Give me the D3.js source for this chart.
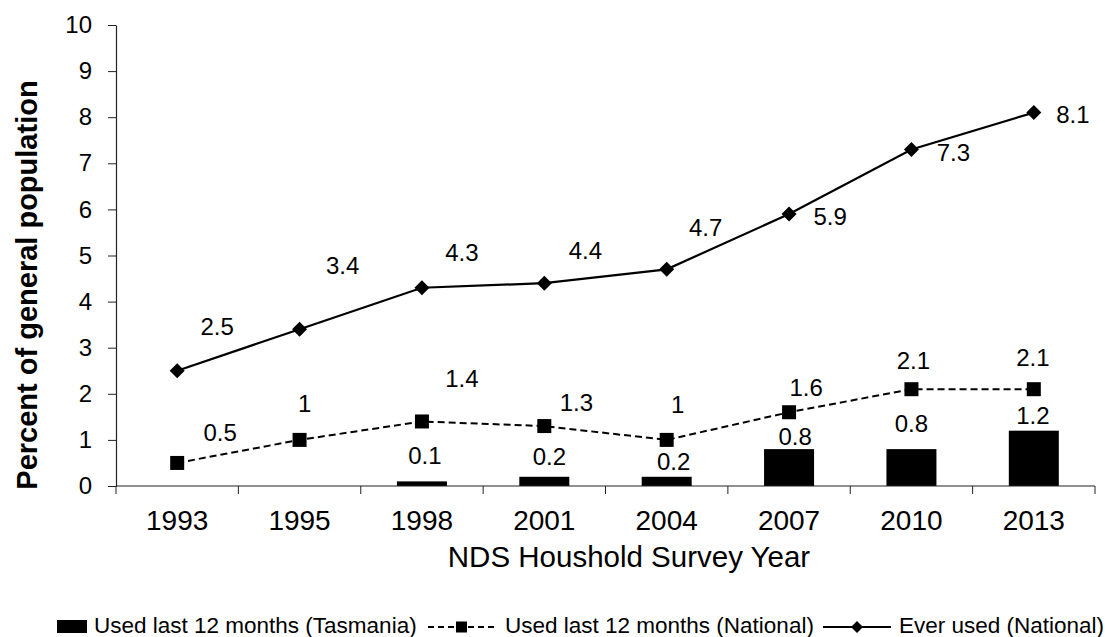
<!DOCTYPE html>
<html>
<head>
<meta charset="utf-8">
<script src="https://cdn.jsdelivr.net/npm/d3@7"></script>
<style>
  html, body { margin: 0; padding: 0; background: #fff; }
  svg { display: block; font-family: "Liberation Sans", Arial, sans-serif; }
</style>
</head>
<body>
<svg id="chart" width="1105" height="637"></svg>
<script>
// Survey years and series values (percent of general population)
const years = ["1993", "1995", "1998", "2001", "2004", "2007", "2010", "2013"];
const tasmania = [null, null, 0.1, 0.2, 0.2, 0.8, 0.8, 1.2];
const national = [0.5, 1, 1.4, 1.3, 1, 1.6, 2.1, 2.1];
const everUsed = [2.5, 3.4, 4.3, 4.4, 4.7, 5.9, 7.3, 8.1];
const yTicks = [0, 1, 2, 3, 4, 5, 6, 7, 8, 9, 10];

const seriesNames = [
  "Used last 12 months (Tasmania)",
  "Used last 12 months (National)",
  "Ever used (National)"
];

// Hand-placed value label offsets (px from each mark)
const everShift = [[40, -44], [43, -64], [40, -35], [41, -33], [39, -42], [41, 2], [42, 3], [39, 2]];
const nationalShift = [[43, -31], [5, -37], [40, -43], [32, -24], [11, -36], [17, -25], [2, -29], [-1, -32]];
const tasShift = [[0, -20], [0, -20], [3, -26], [5, -20], [7, -15], [6, -13], [0, -26], [-1, -15]];

const svg = d3.select("#chart");
const plot = { left: 116, right: 1095, top: 25, bottom: 486 };

const x = d3.scaleBand().domain(years).range([plot.left, plot.right]).paddingInner(0).paddingOuter(0);
const y = d3.scaleLinear().domain([0, 10]).range([plot.bottom, plot.top]);
const cx = d => x(d) + x.bandwidth() / 2;
const barW = 50;

// Tasmania bars
svg.append("g").selectAll("rect")
  .data(years.map((yr, i) => ({ yr, v: tasmania[i], i })).filter(d => d.v !== null))
  .join("rect")
  .attr("x", d => cx(d.yr) - barW / 2)
  .attr("y", d => y(d.v))
  .attr("width", barW)
  .attr("height", d => y(0) - y(d.v))
  .attr("fill", "#000");

// Y axis
const yAxis = svg.append("g")
  .attr("transform", `translate(${plot.left},0)`)
  .call(d3.axisLeft(y).tickValues(yTicks).tickFormat(d3.format("d")).tickSizeInner(8).tickSizeOuter(0).tickPadding(16));
yAxis.select(".domain").attr("stroke", "#222").attr("stroke-width", 1.2);
yAxis.selectAll(".tick line").attr("stroke", "#222");
yAxis.selectAll(".tick text").attr("font-size", 24).attr("fill", "#000")
  .attr("font-family", "'Liberation Sans', Arial, sans-serif");

// X axis with tick marks on category boundaries
const xAxis = svg.append("g").attr("transform", `translate(0,${plot.bottom})`);
xAxis.append("line")
  .attr("x1", plot.left).attr("x2", plot.right)
  .attr("stroke", "#222").attr("stroke-width", 1.2);
const bounds = years.map(d => x(d)).concat([x(years[years.length - 1]) + x.bandwidth()]);
xAxis.selectAll("line.tick").data(bounds).join("line")
  .attr("class", "tick")
  .attr("x1", d => d).attr("x2", d => d)
  .attr("y1", 0).attr("y2", 8)
  .attr("stroke", "#222");
xAxis.selectAll("text").data(years).join("text")
  .attr("x", d => cx(d))
  .attr("y", 44)
  .attr("text-anchor", "middle")
  .attr("font-size", 28)
  .attr("fill", "#000")
  .text(d => d);

// Axis titles
svg.append("text")
  .attr("x", 629).attr("y", 567)
  .attr("text-anchor", "middle")
  .attr("font-size", 29.5)
  .text("NDS Houshold Survey Year");

svg.append("text")
  .attr("transform", "translate(37,285) rotate(-90)")
  .attr("text-anchor", "middle")
  .attr("font-size", 29)
  .attr("font-weight", "bold")
  .text("Percent of general population");

// Lines
const line = d3.line().x((d, i) => cx(years[i])).y(d => y(d));

svg.append("path")
  .datum(national)
  .attr("d", line)
  .attr("fill", "none")
  .attr("stroke", "#000")
  .attr("stroke-width", 2)
  .attr("stroke-dasharray", "7,4");

svg.append("path")
  .datum(everUsed)
  .attr("d", line)
  .attr("fill", "none")
  .attr("stroke", "#000")
  .attr("stroke-width", 2.2);

// Markers
const sq = 14;
svg.append("g").selectAll("rect")
  .data(national)
  .join("rect")
  .attr("x", (d, i) => cx(years[i]) - sq / 2)
  .attr("y", d => y(d) - sq / 2)
  .attr("width", sq).attr("height", sq)
  .attr("fill", "#000");

const diamond = r => `M0,${-r}L${r},0L0,${r}L${-r},0Z`;
svg.append("g").selectAll("path")
  .data(everUsed)
  .join("path")
  .attr("transform", (d, i) => `translate(${cx(years[i])},${y(d)})`)
  .attr("d", diamond(7.5))
  .attr("fill", "#000");

// Value labels
const labelFont = 24;
function addLabels(values, shift, anchorY) {
  svg.append("g").selectAll("text")
    .data(values.map((v, i) => ({ v, i })).filter(d => d.v !== null))
    .join("text")
    .attr("x", d => cx(years[d.i]) + shift[d.i][0])
    .attr("y", d => anchorY(d.v) + shift[d.i][1])
    .attr("dy", "0.36em")
    .attr("text-anchor", "middle")
    .attr("font-size", labelFont)
    .attr("fill", "#000")
    .text(d => d.v);
}
addLabels(everUsed, everShift, v => y(v));
addLabels(national, nationalShift, v => y(v));
addLabels(tasmania, tasShift, v => y(v));

// Legend
const lg = svg.append("g").attr("font-size", 22.5);
const ly = 627;
lg.append("rect").attr("x", 57).attr("y", ly - 7).attr("width", 30).attr("height", 13).attr("fill", "#000");
lg.append("text").attr("x", 94).attr("y", 633).text(seriesNames[0]);

lg.append("line").attr("x1", 428).attr("x2", 497).attr("y1", ly).attr("y2", ly)
  .attr("stroke", "#000").attr("stroke-width", 2).attr("stroke-dasharray", "6,4");
lg.append("rect").attr("x", 456).attr("y", ly - 5.5).attr("width", 11).attr("height", 11).attr("fill", "#000");
lg.append("text").attr("x", 505).attr("y", 633).text(seriesNames[1]);

lg.append("line").attr("x1", 823).attr("x2", 891).attr("y1", ly).attr("y2", ly)
  .attr("stroke", "#000").attr("stroke-width", 2.2);
lg.append("path").attr("transform", `translate(857,${ly})`).attr("d", diamond(6)).attr("fill", "#000");
lg.append("text").attr("x", 899).attr("y", 633).text(seriesNames[2]);
</script>
</body>
</html>
